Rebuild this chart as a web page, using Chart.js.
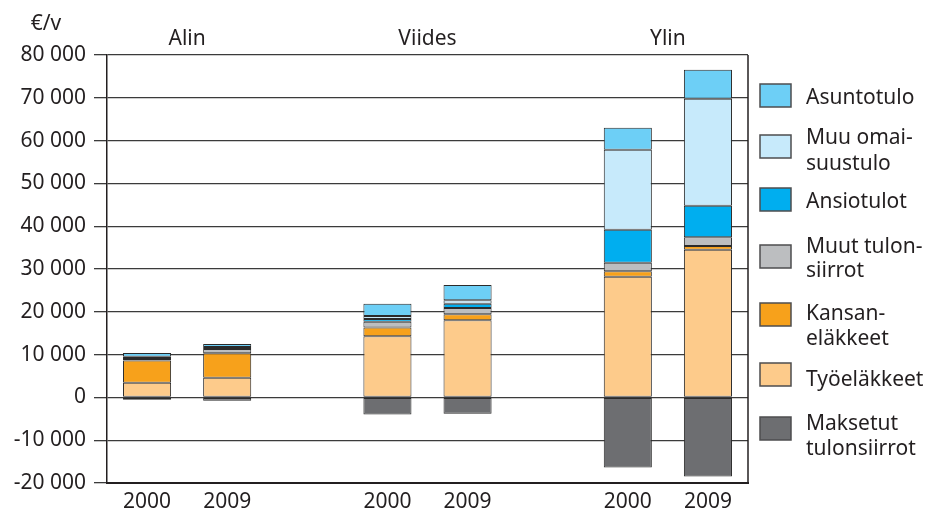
<!DOCTYPE html>
<html>
<head>
<meta charset="utf-8">
<script src="https://cdn.jsdelivr.net/npm/chart.js@4.4.1/dist/chart.umd.min.js"></script>
<style>
  html, body { margin: 0; background: #fff; }
  #wrap { width: 930px; height: 511px; }
</style>
</head>
<body>
<div id="wrap"><canvas id="incomeChart"></canvas></div>
<script>
// Tulot €/v, alin / viides / ylin desiili, 2000 ja 2009
const groups = ["Alin", "Viides", "Ylin"];
const years = ["2000", "2009"];
const yTicks = [-20000, -10000, 0, 10000, 20000, 30000, 40000, 50000, 60000, 70000, 80000];

// order of bars: Alin 2000, Alin 2009, Viides 2000, Viides 2009, Ylin 2000, Ylin 2009
const tyoelakkeet = [3400, 4600, 14300, 18000, 28200, 34500];
const kansanelakkeet = [5200, 5700, 2050, 1400, 1250, 850];
const muutTulonsiirrot = [400, 1000, 1350, 1470, 2000, 2050];
const ansiotulot = [200, 250, 600, 1020, 7700, 7400];
const muuOmaisuustulo = [300, 250, 700, 780, 18700, 25000];
const asuntotulo = [900, 650, 2900, 3580, 5150, 6750];
const maksetutTulonsiirrot = [-550, -800, -4000, -3800, -16400, -18500];

const FONT = "'Noto Sans', sans-serif";
const TEXT = "#231f20";

// one empty slot between the groups
const labels = [];
groups.forEach((g, gi) => {
  if (gi > 0) labels.push("");
  years.forEach(y => labels.push(y));
});
const spread = arr => {
  const out = [];
  groups.forEach((g, gi) => {
    if (gi > 0) out.push(null);
    years.forEach((y, yi) => out.push(arr[gi * years.length + yi]));
  });
  return out;
};

const series = [
  { label: "Työeläkkeet", lines: ["Työeläkkeet"], data: tyoelakkeet, color: "#fdcb8b" },
  { label: "Kansaneläkkeet", lines: ["Kansan-", "eläkkeet"], data: kansanelakkeet, color: "#f7a11b" },
  { label: "Muut tulonsiirrot", lines: ["Muut tulon-", "siirrot"], data: muutTulonsiirrot, color: "#bcbec0" },
  { label: "Ansiotulot", lines: ["Ansiotulot"], data: ansiotulot, color: "#00aeef" },
  { label: "Muu omaisuustulo", lines: ["Muu omai-", "suustulo"], data: muuOmaisuustulo, color: "#c7eafb" },
  { label: "Asuntotulo", lines: ["Asuntotulo"], data: asuntotulo, color: "#6dcff6" },
  { label: "Maksetut tulonsiirrot", lines: ["Maksetut", "tulonsiirrot"], data: maksetutTulonsiirrot, color: "#6d6e71" },
];

// legend rows top to bottom: [series index, box top, text baselines]
const legendRows = [
  [5, 84, [104]],
  [4, 135, [144, 170]],
  [3, 188, [208]],
  [2, 245, [253, 277]],
  [1, 303, [320, 345]],
  [0, 363, [386]],
  [6, 417, [430, 455]],
];

const fmt = v => (v < 0 ? "-" : "") + String(Math.abs(v)).replace(/\B(?=(\d{3})+(?!\d))/g, " ");

const extras = {
  id: "extras",
  afterDraw(chart) {
    const { ctx, chartArea } = chart;
    const x = chart.scales.x;
    ctx.save();
    // right frame line
    ctx.strokeStyle = "#231f20";
    ctx.lineWidth = 1.5;
    ctx.beginPath();
    ctx.moveTo(chartArea.right, chartArea.top);
    ctx.lineTo(chartArea.right, chartArea.bottom);
    ctx.stroke();

    ctx.fillStyle = TEXT;
    ctx.font = "21px " + FONT;
    ctx.textBaseline = "alphabetic";
    ctx.textAlign = "center";
    ctx.fillText("€/v", 46, 30);

    // group names above the pairs
    let idx = 0;
    groups.forEach((g, gi) => {
      if (gi > 0) idx++;
      const a = x.getPixelForValue(idx);
      const b = x.getPixelForValue(idx + years.length - 1);
      ctx.fillText(g, (a + b) / 2, 45);
      idx += years.length;
    });

    // legend
    ctx.textAlign = "left";
    legendRows.forEach(([si, top, bases]) => {
      const s = series[si];
      ctx.fillStyle = s.color;
      ctx.fillRect(760, top, 31, 23);
      ctx.strokeStyle = "#4d4d4f";
      ctx.lineWidth = 1.5;
      ctx.strokeRect(760, top, 31, 23);
      ctx.fillStyle = TEXT;
      s.lines.forEach((t, li) => ctx.fillText(t, 806, bases[li]));
    });
    ctx.restore();
  }
};

new Chart(document.getElementById("incomeChart"), {
  type: "bar",
  data: {
    labels: labels,
    datasets: series.map(s => ({
      label: s.label,
      data: spread(s.data),
      backgroundColor: s.color,
      borderColor: "#2b2b2b",
      borderWidth: 1,
      borderSkipped: false,
      barPercentage: 0.6,
      categoryPercentage: 1,
    })),
  },
  options: {
    responsive: true,
    maintainAspectRatio: false,
    animation: false,
    layout: { padding: { top: 55, right: 182, left: 0, bottom: 0 } },
    plugins: {
      legend: { display: false },
      tooltip: { enabled: false },
    },
    scales: {
      x: {
        stacked: true,
        offset: true,
        grid: { display: false },
        border: { color: "#231f20", width: 2 },
        ticks: { color: TEXT, font: { family: FONT, size: 21 }, padding: -2, maxRotation: 0 },
        afterFit: s => { s.height = 28; },
      },
      y: {
        stacked: true,
        min: -20000,
        max: 80000,
        afterBuildTicks: s => { s.ticks = yTicks.map(v => ({ value: v })); },
        grid: { color: "#3b3b3b", lineWidth: 1.3, tickLength: 13 },
        border: { color: "#231f20", width: 1.5 },
        ticks: { color: TEXT, font: { family: FONT, size: 21 }, padding: 8, callback: v => fmt(v) },
        afterFit: s => { s.width = 107; },
      },
    },
  },
  plugins: [extras],
});
</script>
</body>
</html>
